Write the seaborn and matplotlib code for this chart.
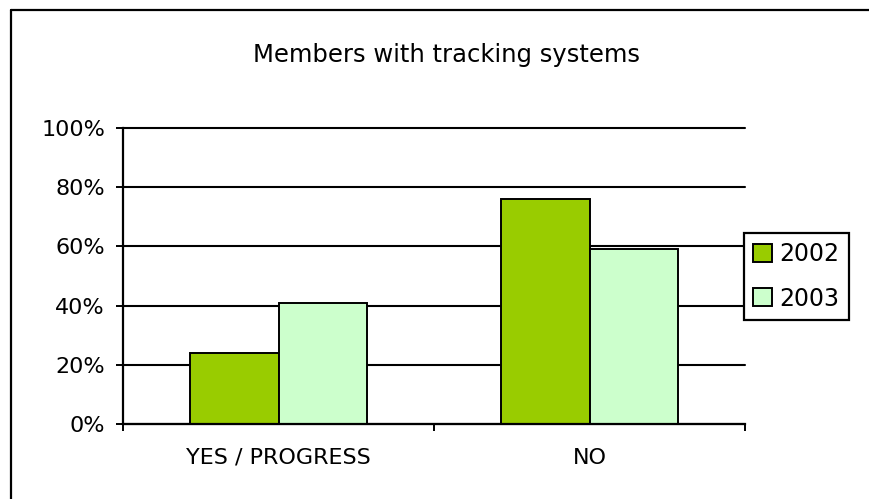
import pandas as pd
import matplotlib.pyplot as plt
import matplotlib.ticker as mticker
from matplotlib.lines import Line2D
import seaborn as sns

categories = ["YES / PROGRESS", "NO"]
years = ["2002", "2003"]
share_2002 = [24, 76]
share_2003 = [41, 59]
colors = ["#99CC00", "#CCFFCC"]

df = pd.DataFrame({
    "answer": categories * 2,
    "year": [years[0]] * 2 + [years[1]] * 2,
    "share": share_2002 + share_2003,
})

sns.set_style("white")
plt.rcParams['font.family'] = ['DejaVu Sans']
plt.rcParams['text.color'] = 'black'
plt.rcParams['xtick.color'] = 'black'
plt.rcParams['ytick.color'] = 'black'

fig = plt.figure(figsize=(8.69, 4.99), dpi=100)
ax = fig.add_axes([123/869, 1-424/499, (745-123)/869, (424-128)/499])

sns.barplot(data=df, x="answer", y="share", hue="year", order=categories,
            hue_order=years, palette=colors, width=0.572, edgecolor="black",
            linewidth=1.4, saturation=1, ax=ax, zorder=3)

ax.set_xlim(-0.5, 1.5)
ax.set_ylim(0, 100)
ax.set_yticks([0, 20, 40, 60, 80, 100])
ax.yaxis.set_major_formatter(mticker.PercentFormatter(decimals=0))
ax.set_xlabel("")
ax.set_ylabel("")

ax.yaxis.grid(True, color="black", linewidth=1.5, zorder=0)
for gl in ax.get_ygridlines():
    gl.set_clip_on(False)
ax.set_axisbelow(True)
for s in ["top", "right"]:
    ax.spines[s].set_visible(False)
for s in ["left", "bottom"]:
    ax.spines[s].set_color("black")
    ax.spines[s].set_linewidth(1.6)
    ax.spines[s].set_zorder(4)

ax.tick_params(axis="y", direction="out", length=5, width=1.4, color="black",
               pad=8, labelsize=16, left=True, labelcolor="black")
ax.tick_params(axis="x", which="major", length=0, pad=17, labelsize=16,
               labelcolor="black")
ax.set_xticks([-0.5, 0.5, 1.5], minor=True)
ax.tick_params(axis="x", which="minor", direction="out", length=5, width=1.4,
               color="black", bottom=True)

handles, labels = ax.get_legend_handles_labels()
ax.get_legend().remove()
leg = fig.legend(handles, labels, loc="upper left",
                 bbox_to_anchor=(744/869, 1-233/499), fontsize=17,
                 frameon=True, fancybox=False, shadow=False, framealpha=1,
                 handlelength=0.8, handleheight=0.8, handletextpad=0.3,
                 labelspacing=0.85, borderpad=0.4, borderaxespad=0)
leg.get_frame().set_edgecolor("black")
leg.get_frame().set_linewidth(1.6)
for h in leg.legend_handles:
    h.set_linewidth(1.4)

fig.text(446/869, 1-55/499, "Members with tracking systems", ha="center",
         va="center", fontsize=17.5, color="black")

# chart area border (top and left only)
fig.add_artist(Line2D([11/869, 1], [1-10/499, 1-10/499], color="black",
                      linewidth=1.6, transform=fig.transFigure))
fig.add_artist(Line2D([11/869, 11/869], [0, 1-10/499], color="black",
                      linewidth=1.6, transform=fig.transFigure))

fig.savefig("out.png", dpi=100)
